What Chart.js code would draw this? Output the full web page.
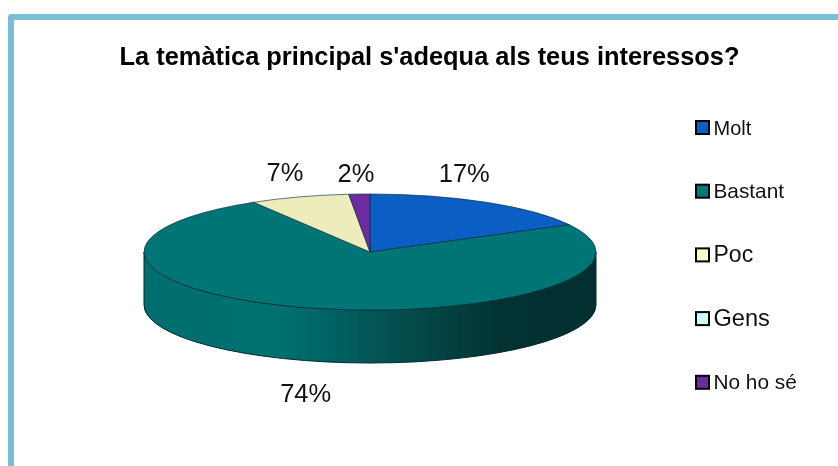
<!DOCTYPE html>
<html>
<head>
<meta charset="utf-8">
<script src="https://cdn.jsdelivr.net/npm/chart.js@4"></script>
<style>
html,body{margin:0;padding:0;background:#fff;overflow:hidden}
#wrap{position:absolute;left:0;top:0;width:838px;height:466px}
</style>
</head>
<body>
<div id="wrap"><canvas id="c" width="838" height="466"></canvas></div>
<script>
const chartTitle = "La temàtica principal s'adequa als teus interessos?";
const categories = ["Molt", "Bastant", "Poc", "Gens", "No ho sé"];
const values = [17.2, 74.2, 7.1, 0, 1.5];
const sliceColors = ["#0A5EC4", "#007575", "#EDEDBC", "#CCFFFF", "#6A2CA0"];
const legendColors = ["#0A5EC4", "#007A7A", "#FFFFCC", "#CCFFFF", "#6A2CA0"];

const TILT = 58 / 226, DEPTH = 53;
const labelShift = [[-22, -27], [-4, 87], [-14.5, -23], null, [-3.4, -19]];
const legendFonts = [20, 20.8, 23, 23.6, 20.8];
const legendRow = {x: 696, y: 127.5, step: 63.7, box: 13, textX: 713.5, baseline: 7};

function squash(ctx, cy) {
  ctx.translate(0, cy); ctx.scale(1, TILT); ctx.translate(0, -cy);
}

const pie3d = {
  id: 'pie3d',
  beforeDraw(chart) {
    const ctx = chart.ctx;
    ctx.save();
    ctx.fillStyle = '#78BFD5';
    ctx.beginPath();
    ctx.moveTo(838, 14); ctx.lineTo(11, 14); ctx.quadraticCurveTo(8, 14, 8, 17);
    ctx.lineTo(8, 466); ctx.lineTo(14, 466); ctx.lineTo(14, 20); ctx.lineTo(838, 20);
    ctx.closePath(); ctx.fill();
    ctx.restore();
  },
  afterLayout(chart) {
    const t = chart.titleBlock;
    t.left += 59.5; t.right += 59.5;
  },
  beforeDatasetDraw(chart) {
    const ctx = chart.ctx, arcs = chart.getDatasetMeta(0).data;
    const rx = arcs[0].outerRadius, ry = rx * TILT, cx = arcs[0].x, cy = arcs[0].y;
    const g = ctx.createLinearGradient(cx - rx, 0, cx + rx, 0);
    g.addColorStop(0, '#006E6E');
    g.addColorStop(0.30, '#007070');
    g.addColorStop(0.41, '#006262');
    g.addColorStop(0.54, '#055152');
    g.addColorStop(0.68, '#034040');
    g.addColorStop(0.79, '#023232');
    g.addColorStop(1, '#032F30');
    ctx.save();
    arcs.forEach(a => {
      const s = Math.max(a.startAngle, 0), e = Math.min(a.endAngle, Math.PI);
      if (e <= s) return;
      ctx.beginPath();
      ctx.ellipse(cx, cy, rx, ry, 0, s, e);
      ctx.ellipse(cx, cy + DEPTH, rx, ry, 0, e, s, true);
      ctx.closePath();
      ctx.fillStyle = g;
      ctx.fill();
      ctx.strokeStyle = '#022A2C';
      ctx.lineWidth = 1;
      ctx.stroke();
    });
    ctx.restore();
    ctx.save();
    squash(ctx, cy);
  },
  afterDatasetDraw(chart) {
    chart.ctx.restore();
  },
  afterDraw(chart) {
    const ctx = chart.ctx, arcs = chart.getDatasetMeta(0).data;
    const total = values.reduce((p, v) => p + v, 0);
    ctx.save();
    ctx.fillStyle = '#111';
    ctx.font = '25.5px "Liberation Sans", Arial, sans-serif';
    ctx.textAlign = 'center';
    ctx.textBaseline = 'middle';
    arcs.forEach((a, i) => {
      if (!values[i]) return;
      const mid = (a.startAngle + a.endAngle) / 2;
      const x = a.x + a.outerRadius * Math.cos(mid) + labelShift[i][0];
      const y = a.y + a.outerRadius * TILT * Math.sin(mid) + labelShift[i][1];
      ctx.fillText(Math.round(values[i] / total * 100) + '%', x, y);
    });
    ctx.textAlign = 'left';
    ctx.textBaseline = 'alphabetic';
    categories.forEach((name, i) => {
      const yc = legendRow.y + i * legendRow.step;
      ctx.fillStyle = legendColors[i];
      ctx.strokeStyle = '#000';
      ctx.lineWidth = 2;
      ctx.fillRect(legendRow.x, yc - legendRow.box / 2, legendRow.box, legendRow.box);
      ctx.strokeRect(legendRow.x, yc - legendRow.box / 2, legendRow.box, legendRow.box);
      ctx.fillStyle = '#111';
      ctx.font = legendFonts[i] + 'px "Liberation Sans", Arial, sans-serif';
      ctx.fillText(name, legendRow.textX, yc + legendRow.baseline);
    });
    ctx.restore();
  }
};

new Chart(document.getElementById('c'), {
  type: 'pie',
  data: {
    labels: categories,
    datasets: [{
      data: values,
      backgroundColor: sliceColors,
      borderColor: '#08283C',
      borderWidth: 1,
      radius: 226,
      clip: false
    }]
  },
  options: {
    responsive: false,
    animation: false,
    events: [],
    layout: {padding: {left: 0, right: 98, top: 0, bottom: 35.5}},
    plugins: {
      legend: {display: false},
      tooltip: {enabled: false},
      title: {
        display: true,
        text: chartTitle,
        color: '#000',
        font: {family: '"Liberation Sans", Arial, sans-serif', size: 25.4, weight: 'bold'},
        padding: {top: 43, bottom: 0}
      }
    }
  },
  plugins: [pie3d]
});
</script>
</body>
</html>
